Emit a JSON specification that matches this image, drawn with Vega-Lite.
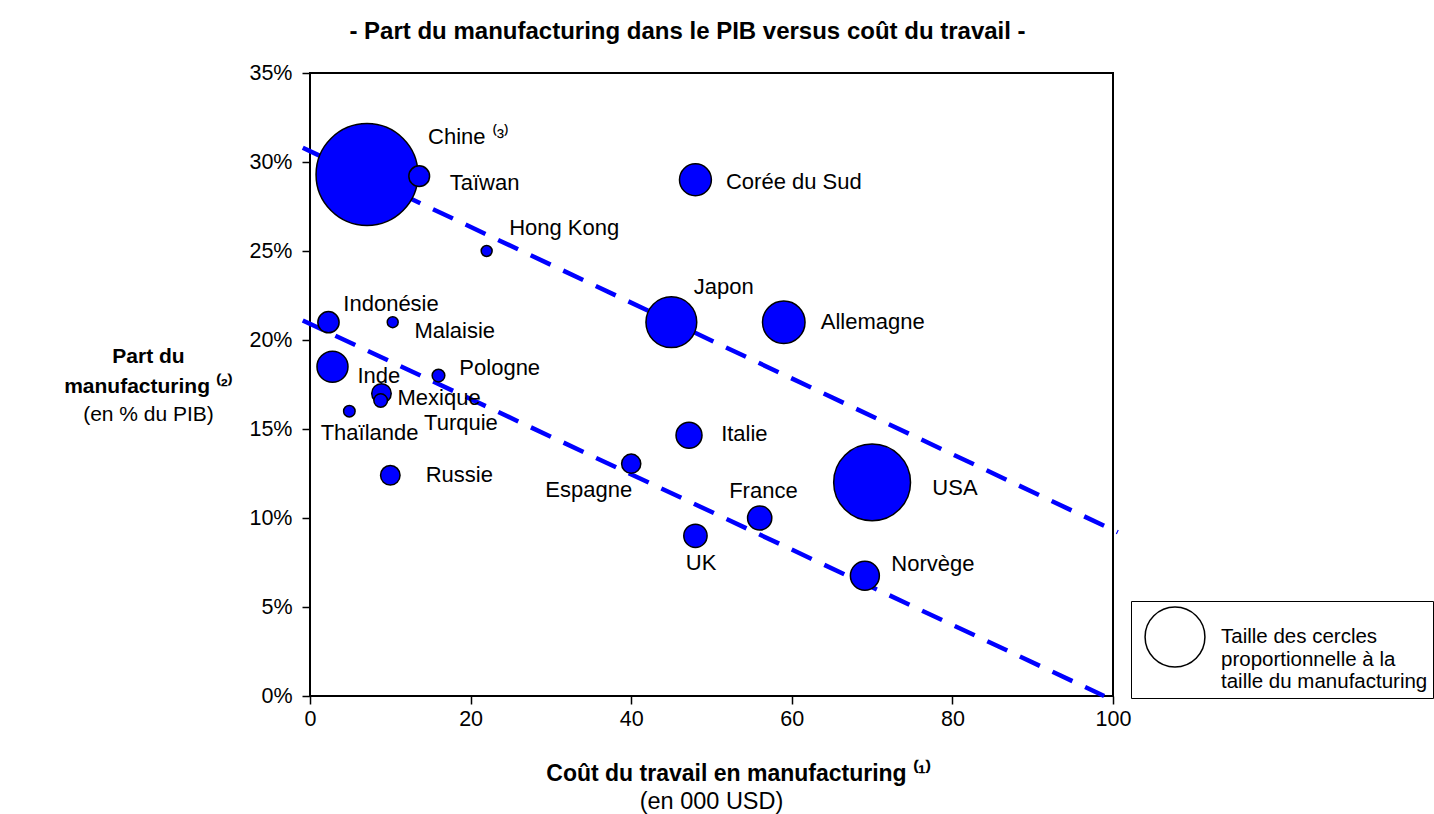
{
  "$schema": "https://vega.github.io/schema/vega-lite/v6.json",
  "width": 803,
  "height": 623,
  "autosize": {"type": "none"},
  "padding": {"left": 310, "top": 73, "right": 321, "bottom": 118},
  "background": "white",
  "config": {
    "font": "Liberation Sans",
    "view": {"stroke": "black", "strokeWidth": 2}
  },
  "title": {
    "text": "- Part du manufacturing dans le PIB versus coût du travail -",
    "fontSize": 24,
    "fontWeight": "bold",
    "color": "black",
    "anchor": "middle",
    "frame": "group",
    "dx": -24,
    "offset": 18
  },
  "datasets": {
    "pays": [
      {"pays": "Chine ⁽³⁾", "cout": 7.1, "part": 0.293, "taille": 3306, "lx": 14.7, "ly": 0.314},
      {"pays": "USA", "cout": 70.0, "part": 0.120, "taille": 1878, "lx": 77.5, "ly": 0.117},
      {"pays": "Japon", "cout": 45.0, "part": 0.210, "taille": 821, "lx": 47.8, "ly": 0.230},
      {"pays": "Allemagne", "cout": 59.0, "part": 0.210, "taille": 576, "lx": 63.6, "ly": 0.210},
      {"pays": "Corée du Sud", "cout": 48.0, "part": 0.290, "taille": 324, "lx": 51.8, "ly": 0.289},
      {"pays": "Inde", "cout": 2.8, "part": 0.185, "taille": 306, "lx": 5.9, "ly": 0.180},
      {"pays": "Norvège", "cout": 69.1, "part": 0.0676, "taille": 267, "lx": 72.4, "ly": 0.074},
      {"pays": "Italie", "cout": 47.2, "part": 0.1465, "taille": 215, "lx": 51.2, "ly": 0.147},
      {"pays": "France", "cout": 56.0, "part": 0.100, "taille": 187, "lx": 52.2, "ly": 0.115},
      {"pays": "UK", "cout": 48.0, "part": 0.090, "taille": 173, "lx": 46.8, "ly": 0.075},
      {"pays": "Indonésie", "cout": 2.3, "part": 0.210, "taille": 144, "lx": 4.15, "ly": 0.220},
      {"pays": "Taïwan", "cout": 13.6, "part": 0.292, "taille": 137, "lx": 17.4, "ly": 0.288},
      {"pays": "Russie", "cout": 10.0, "part": 0.124, "taille": 121, "lx": 14.4, "ly": 0.124},
      {"pays": "Mexique", "cout": 8.9, "part": 0.170, "taille": 121, "lx": 10.9, "ly": 0.1675},
      {"pays": "Espagne", "cout": 40.0, "part": 0.1305, "taille": 117, "lx": 29.3, "ly": 0.116},
      {"pays": "Turquie", "cout": 8.8, "part": 0.166, "taille": 59, "lx": 14.2, "ly": 0.1535},
      {"pays": "Pologne", "cout": 16.0, "part": 0.180, "taille": 51, "lx": 18.6, "ly": 0.184},
      {"pays": "Thaïlande", "cout": 4.9, "part": 0.160, "taille": 42, "lx": 1.33, "ly": 0.148},
      {"pays": "Hong Kong", "cout": 22.0, "part": 0.250, "taille": 38, "lx": 24.8, "ly": 0.263},
      {"pays": "Malaisie", "cout": 10.3, "part": 0.210, "taille": 38, "lx": 13.0, "ly": 0.205}
    ],
    "tendances": [
      {"serie": "haut", "cout": -0.9, "part": 0.308},
      {"serie": "haut", "cout": 100.6, "part": 0.092},
      {"serie": "bas", "cout": -0.9, "part": 0.211},
      {"serie": "bas", "cout": 98.9, "part": 0.0}
    ]
  },
  "layer": [
    {
      "data": {"name": "tendances"},
      "mark": {"type": "line", "color": "#0000FF", "strokeWidth": 4.5, "strokeDash": [22, 14], "clip": false},
      "encoding": {
        "x": {
          "field": "cout", "type": "quantitative",
          "scale": {"domain": [0, 100], "nice": false, "zero": false},
          "axis": {
            "values": [0, 20, 40, 60, 80, 100],
            "grid": false, "domain": false,
            "tickSize": 8, "tickWidth": 1.5, "tickColor": "black",
            "labelFontSize": 21.5, "labelColor": "black", "labelPadding": 4,
            "labelFlush": false, "labelOverlap": false,
            "title": "Coût du travail en manufacturing ⁽¹⁾",
            "titleFontSize": 23, "titleFontWeight": "bold", "titleColor": "black",
            "titleX": 428, "titleY": 84, "titleAlign": "center", "titleBaseline": "alphabetic"
          }
        },
        "y": {
          "field": "part", "type": "quantitative",
          "scale": {"domain": [0, 0.35], "nice": false},
          "axis": {
            "values": [0, 0.05, 0.1, 0.15, 0.2, 0.25, 0.3, 0.35],
            "format": ".0%",
            "grid": false, "domain": false,
            "tickSize": 8, "tickWidth": 1.5, "tickColor": "black",
            "labelFontSize": 21.5, "labelColor": "black", "labelPadding": 10,
            "labelOverlap": false, "labelFlush": false,
            "title": ["Part du", "manufacturing ⁽²⁾"],
            "titleFontSize": 21, "titleFontWeight": "bold", "titleColor": "black",
            "titleAngle": 0, "titleX": -162, "titleY": 289, "titleLineHeight": 30,
            "titleAlign": "center", "titleBaseline": "alphabetic"
          }
        },
        "detail": {"field": "serie", "type": "nominal"}
      }
    },
    {
      "data": {"name": "pays"},
      "mark": {"type": "circle", "stroke": "black", "strokeWidth": 1.5, "opacity": 1},
      "encoding": {
        "x": {
          "field": "cout", "type": "quantitative",
          "axis": {
            "orient": "bottom", "labels": false, "ticks": false, "domain": false, "grid": false,
            "title": "(en 000 USD)", "titleFontSize": 23.5, "titleFontWeight": "normal", "titleColor": "black",
            "titleX": 401, "titleY": 112, "titleAlign": "center", "titleBaseline": "alphabetic"
          }
        },
        "y": {
          "field": "part", "type": "quantitative",
          "axis": {
            "orient": "left", "labels": false, "ticks": false, "domain": false, "grid": false,
            "title": "(en % du PIB)", "titleFontSize": 21, "titleFontWeight": "normal", "titleColor": "black",
            "titleAngle": 0, "titleX": -162, "titleY": 347, "titleAlign": "center", "titleBaseline": "alphabetic"
          }
        },
        "fill": {"field": "pays", "type": "nominal", "scale": {"range": ["#0000FF"]}, "legend": null},
        "size": {
          "field": "taille", "type": "quantitative",
          "scale": {"type": "linear", "domain": [0, 1000], "range": [0, 3141.59], "zero": true},
          "legend": {
            "values": [1140],
            "orient": "none", "legendX": 821, "legendY": 528,
            "title": null,
            "strokeColor": "black", "fillColor": "white", "padding": 5,
            "labelFontSize": 20.5, "labelColor": "black", "labelLimit": 300, "labelOffset": 15,
            "labelExpr": "['Taille des cercles', 'proportionnelle à la', 'taille du manufacturing']",
            "symbolType": "circle", "symbolOffset": 8, "symbolStrokeWidth": 1.5, "symbolStrokeColor": "black", "symbolFillColor": "white", "symbolOpacity": 1
          }
        }
      }
    },
    {
      "data": {"name": "pays"},
      "mark": {"type": "text", "align": "left", "baseline": "middle", "fontSize": 22, "color": "black"},
      "encoding": {
        "x": {"field": "lx", "type": "quantitative", "axis": null},
        "y": {"field": "ly", "type": "quantitative", "axis": null},
        "text": {"field": "pays", "type": "nominal"}
      }
    }
  ],
  "resolve": {"axis": {"x": "independent", "y": "independent"}}
}
